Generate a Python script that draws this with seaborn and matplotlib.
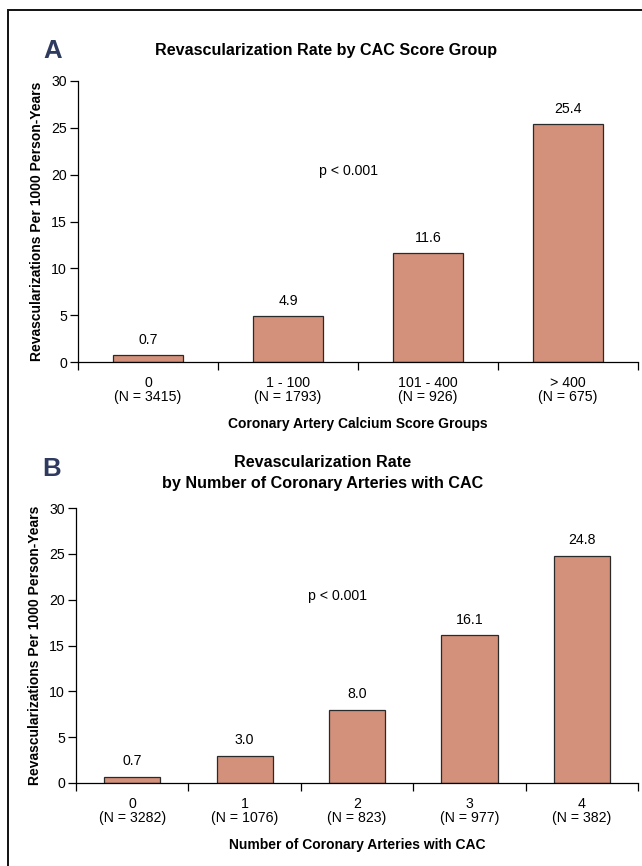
import matplotlib
matplotlib.use("Agg")
import matplotlib.pyplot as plt
from matplotlib.patches import Rectangle
from matplotlib.ticker import FixedLocator
import seaborn as sns
import pandas as pd

# Panel A: revascularization rate by CAC score group
groups_a = ["0", "1 - 100", "101 - 400", "> 400"]
n_a = [3415, 1793, 926, 675]
rates_a = [0.7, 4.9, 11.6, 25.4]

# Panel B: revascularization rate by number of coronary arteries with CAC
groups_b = ["0", "1", "2", "3", "4"]
n_b = [3282, 1076, 823, 977, 382]
rates_b = [0.7, 3.0, 8.0, 16.1, 24.8]

sns.set_theme(style="white")
plt.rcParams["font.family"] = ["Liberation Sans", "DejaVu Sans"]
plt.rcParams["text.color"] = "black"
plt.rcParams["axes.labelcolor"] = "black"
plt.rcParams["xtick.color"] = "black"
plt.rcParams["ytick.color"] = "black"

BAR = "#D3907A"
EDGE = "#2a2a2a"
NAVY = "#2f3a5f"

fig = plt.figure(figsize=(6.42, 8.66), dpi=100)

# outer frame
fig.patches.append(Rectangle((8 / 642, -0.05), 1.2, 1 - 10 / 866 + 0.05,
                             transform=fig.transFigure, fill=False,
                             edgecolor="#111111", linewidth=1.4))


def panel(ax, groups, ns, rates, xlabel, ptext_x):
    df = pd.DataFrame({"group": groups, "rate": rates})
    sns.barplot(data=df, x="group", y="rate", ax=ax, color=BAR, width=0.5,
                edgecolor=EDGE, linewidth=0.9, saturation=1)
    k = len(groups)
    ax.set_xlim(-0.5, k - 0.5)
    ax.set_ylim(0, 30)
    ax.set_yticks([0, 5, 10, 15, 20, 25, 30])
    ax.set_xticks(range(k))
    ax.set_xticklabels([f"{g}\n(N = {n})" for g, n in zip(groups, ns)],
                       fontsize=10.2, linespacing=1.05)
    ax.xaxis.set_minor_locator(FixedLocator([i - 0.5 for i in range(k + 1)]))
    ax.tick_params(axis="x", which="major", length=0, pad=10)
    ax.tick_params(axis="x", which="minor", length=6, width=0.9,
                   color="black", direction="out", bottom=True)
    ax.tick_params(axis="y", length=6, width=0.9, color="black",
                   direction="out", left=True, labelsize=10.2, pad=2)
    for s in ["top", "right"]:
        ax.spines[s].set_visible(False)
    for s in ["left", "bottom"]:
        ax.spines[s].set_color("black")
        ax.spines[s].set_linewidth(0.9)
    ax.spines["bottom"].set_bounds(-0.5, k - 0.5)
    ax.set_xlabel(xlabel, fontsize=10, fontweight="bold", labelpad=9)
    ax.set_ylabel("Revascularizations Per 1000 Person-Years", fontsize=10,
                  fontweight="bold", labelpad=5)
    for i, r in enumerate(rates):
        ax.text(i, r + 0.9, f"{r:.1f}", ha="center", va="bottom", fontsize=10.2)
    ax.text(ptext_x, 20.4, "p < 0.001", ha="center", va="center", fontsize=10.2)
    ax.patch.set_alpha(0)


ax_a = fig.add_axes([78 / 642, 1 - 362 / 866, 560 / 642, 281 / 866])
panel(ax_a, groups_a, n_a, rates_a, "Coronary Artery Calcium Score Groups", 1.43)

ax_b = fig.add_axes([76 / 642, 1 - 783 / 866, 562 / 642, 275 / 866])
panel(ax_b, groups_b, n_b, rates_b, "Number of Coronary Arteries with CAC", 1.83)

fig.text(326 / 642, 1 - 50 / 866, "Revascularization Rate by CAC Score Group",
         ha="center", va="center", fontsize=11.6, fontweight="bold")
fig.text(323 / 642, 1 - 473 / 866,
         "Revascularization Rate\nby Number of Coronary Arteries with CAC",
         ha="center", va="center", fontsize=11.6, fontweight="bold",
         linespacing=1.45)
fig.text(53 / 642, 1 - 51 / 866, "A", ha="center", va="center", fontsize=18.5,
         fontweight="bold", color=NAVY)
fig.text(52 / 642, 1 - 469 / 866, "B", ha="center", va="center", fontsize=18.5,
         fontweight="bold", color=NAVY)

fig.savefig("out.png", dpi=100, facecolor="white")
